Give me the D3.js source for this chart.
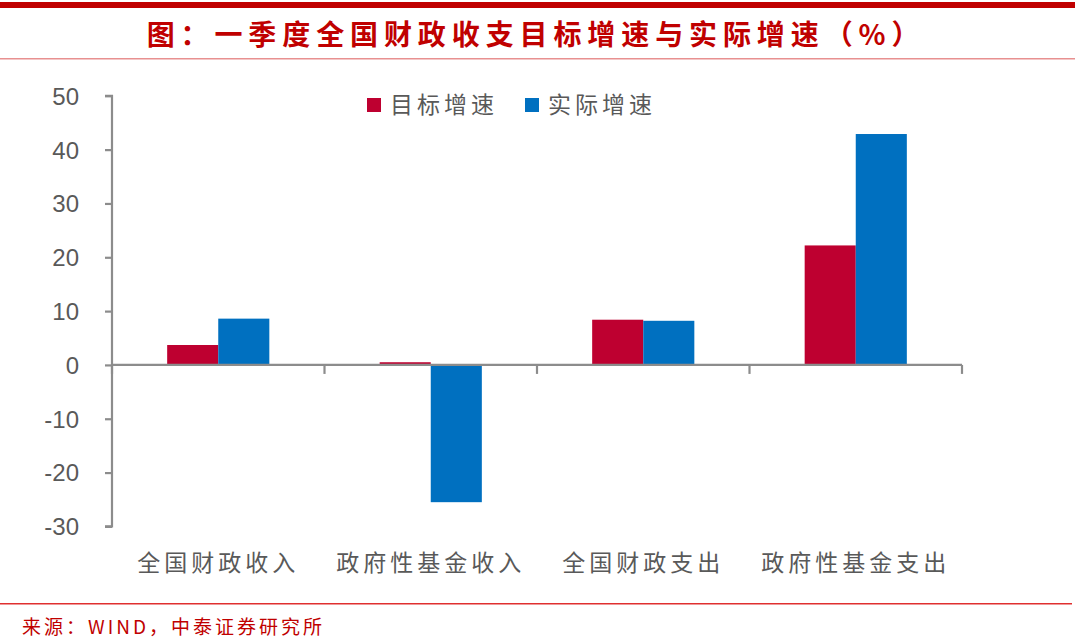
<!DOCTYPE html>
<html><head><meta charset="utf-8">
<script src="https://cdn.jsdelivr.net/npm/d3@7"></script>
<style>body{margin:0;background:#fff}svg{display:block}</style>
</head><body>
<svg id="c" width="1080" height="641"></svg>
<script>
const categories = ["全国财政收入","政府性基金收入","全国财政支出","政府性基金支出"];
const seriesNames = ["目标增速","实际增速"];
const targetGrowth = [3.7, 0.5, 8.4, 22.2];
const actualGrowth = [8.6, -25.5, 8.2, 42.9];
const yTicks = [50,40,30,20,10,0,-10,-20,-30];
const colors = ["#BE0030","#0070C0"];
const titleText = "图：一季度全国财政收支目标增速与实际增速（%）";
const sourceText = "来源：WIND，中泰证券研究所";

const svg = d3.select("#c");
const cjk = "'Noto Sans CJK SC','Noto Sans',sans-serif";
const axisCol = "#8c8c8c", textCol = "#595959";

// header
svg.append("rect").attr("x",0).attr("y",2).attr("width",1075).attr("height",6).attr("fill","#C00000");
svg.append("text").attr("x",536).attr("y",45).attr("text-anchor","middle")
  .attr("font-family",cjk).attr("font-size",28).attr("font-weight","bold")
  .attr("letter-spacing",5.9).attr("fill","#C00000").text(titleText);
svg.append("rect").attr("x",0).attr("y",58).attr("width",1075).attr("height",1.5).attr("fill","#e89090");

// footer
svg.append("rect").attr("x",0).attr("y",603).attr("width",1072).attr("height",1.5).attr("fill","#e03030");
svg.append("text").attr("x",22).attr("y",634).attr("font-family",cjk).attr("font-size",19)
  .attr("letter-spacing",3).attr("fill","#C00000").text(sourceText);

const x0 = 112, x1 = 962;
const y = d3.scaleLinear().domain([-30,50]).range([526.4,95.8]);
const x = d3.scaleBand().domain(categories).range([x0,x1]).paddingInner(0).paddingOuter(0);
const xs = d3.scaleBand().domain(seriesNames).range([0,x.bandwidth()]).paddingInner(0).paddingOuter(1.08);

const g = svg.append("g");
const data = categories.map((c,i)=>({c, vals:[targetGrowth[i], actualGrowth[i]]}));
data.forEach(d=>{
  d.vals.forEach((v,j)=>{
    g.append("rect")
      .attr("x", x(d.c)+xs(seriesNames[j]))
      .attr("width", xs.bandwidth())
      .attr("y", y(Math.max(0,v)))
      .attr("height", Math.abs(y(v)-y(0)))
      .attr("fill", colors[j]);
  });
});

// y axis
const yAxis = svg.append("g").attr("transform",`translate(${x0},0)`)
  .call(d3.axisLeft(y).tickValues(yTicks).tickSize(7).tickPadding(26).tickFormat(d=>String(d)));
yAxis.select(".domain").attr("stroke",axisCol).attr("stroke-width",2.2).attr("d",`M-7,${y(50)}H0V${y(-30)}H-7`);
yAxis.selectAll(".tick line").attr("stroke",axisCol).attr("stroke-width",2.2);
yAxis.selectAll(".tick text").attr("font-family","'Liberation Sans',Arial,sans-serif")
  .attr("font-size",24).attr("fill",textCol).attr("dy","0.35em");

// x axis at zero
const xAxis = svg.append("g").attr("transform",`translate(0,${y(0)})`);
xAxis.append("line").attr("x1",x0).attr("x2",x1).attr("y1",0).attr("y2",0).attr("stroke",axisCol).attr("stroke-width",2.2);
const bounds = categories.map(c=>x(c)).concat([x1]);
bounds.forEach(b=>{
  xAxis.append("line").attr("x1",b).attr("x2",b).attr("y1",0).attr("y2",9).attr("stroke",axisCol).attr("stroke-width",2.2);
});

// category labels
categories.forEach(c=>{
  svg.append("text").attr("x",x(c)+x.bandwidth()/2).attr("y",571).attr("text-anchor","middle")
    .attr("font-family",cjk).attr("font-size",23).attr("letter-spacing",4).attr("fill",textCol).text(c);
});

// legend
const legX = [367, 525];
seriesNames.forEach((s,i)=>{
  svg.append("rect").attr("x",legX[i]).attr("y",98).attr("width",14).attr("height",14).attr("fill",colors[i]);
  svg.append("text").attr("x",legX[i]+23).attr("y",113).attr("font-family",cjk).attr("font-size",23)
    .attr("letter-spacing",4).attr("fill",textCol).text(s);
});
</script>
</body></html>
